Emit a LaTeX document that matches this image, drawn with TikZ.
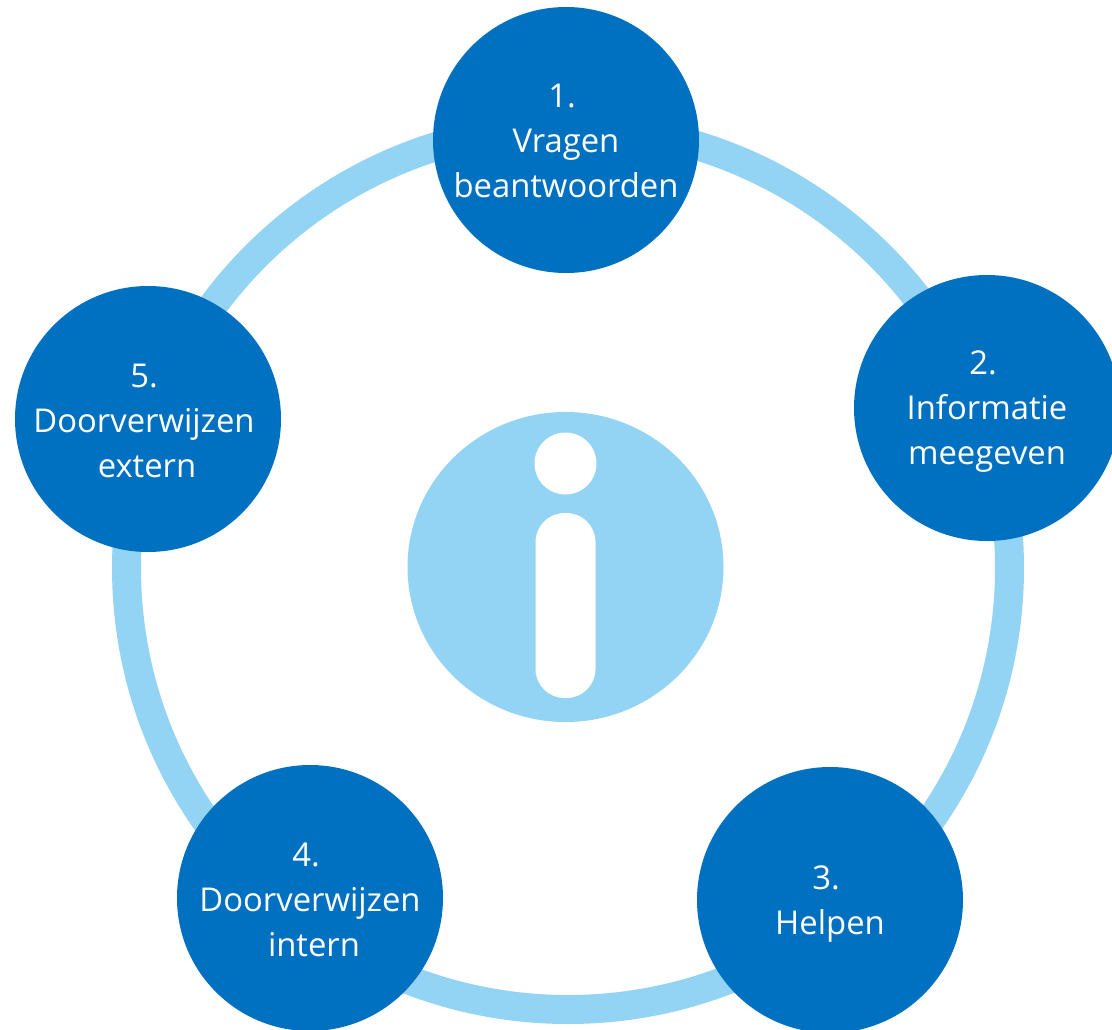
\documentclass[tikz,border=0pt]{standalone}
\usepackage{fontspec}
\setmainfont{Open Sans}
\usetikzlibrary{shapes.geometric}
\definecolor{stepblue}{HTML}{0070C0}
\definecolor{ringblue}{HTML}{93D3F4}
\tikzset{
    stepnode/.style={circle, fill=stepblue, minimum size=266pt, inner sep=0pt},
    steptext/.style={text=white, inner sep=0pt, align=center, font=\fontsize{32.8}{45}\selectfont},
}
\begin{document}
\begin{tikzpicture}[x=1pt, y=-1pt]
    \useasboundingbox (0,0) rectangle (1112,1029);

    % Draw the ring
    \node[circle, draw=ringblue, line width=29pt, minimum size=883pt, inner sep=0pt] (ring) at (568,568) {};

    % Draw the info sign
    \node[ellipse, fill=ringblue, minimum width=316pt, minimum height=310pt, inner sep=0pt] (info) at (565.5,567) {};
    \node[circle, fill=white, minimum size=62pt, inner sep=0pt] (infodot) at (565.5,463.5) {};
    \node[rectangle, fill=white, rounded corners=29pt, minimum width=60pt, minimum height=185pt, inner sep=0pt] (infobar) at (565.5,605.5) {};

    % Steps around the ring
    \node[stepnode] (vragen) at (566,140) {};
    \node[stepnode] (informatie) at (987,408) {};
    \node[stepnode] (helpen) at (830,900) {};
    \node[stepnode] (intern) at (310,898) {};
    \node[stepnode] (extern) at (148,419) {};

    % Step labels
    \node[steptext, yshift=-1pt] (vragentext) at (vragen) {\mbox{1.\hspace{8pt}}\\Vragen\\beantwoorden};
    \node[steptext, yshift=-4pt] (informatietext) at (informatie) {\mbox{2.\hspace{8pt}}\\Informatie\\meegeven};
    \node[steptext, yshift=-4pt] (helpentext) at (helpen) {\mbox{3.\hspace{8pt}}\\Helpen};
    \node[steptext, yshift=-1.5pt] (interntext) at (intern) {\mbox{4.\hspace{8pt}}\\Doorverwijzen\\\hspace{8pt}intern};
    \node[steptext, xshift=-4pt, yshift=-1.5pt] (externtext) at (extern) {5.\\Doorverwijzen\\\hspace{6pt}extern};
\end{tikzpicture}
\end{document}
